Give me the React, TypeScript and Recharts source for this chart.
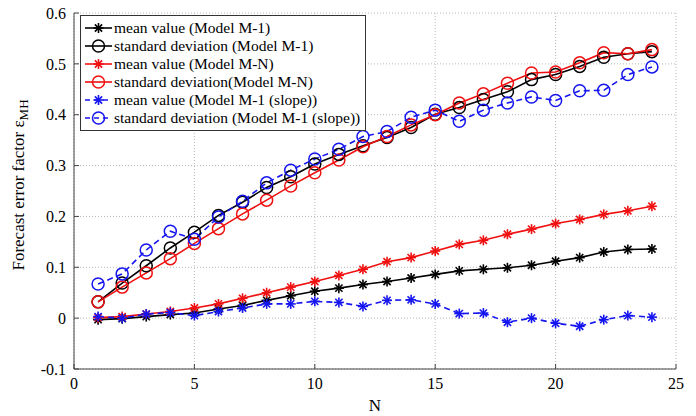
import { LineChart, Line, XAxis, YAxis, CartesianGrid, Legend } from "recharts";

// N (horizon) values
const nValues = [1, 2, 3, 4, 5, 6, 7, 8, 9, 10, 11, 12, 13, 14, 15, 16, 17, 18, 19, 20, 21, 22, 23, 24];

const meanM1 = [-0.003, -0.001, 0.003, 0.007, 0.01, 0.018, 0.025, 0.035, 0.044, 0.053, 0.059, 0.066, 0.072, 0.079, 0.086, 0.093, 0.096, 0.099, 0.104, 0.112, 0.119, 0.13, 0.135, 0.136];
const stdM1 = [0.032, 0.069, 0.103, 0.138, 0.169, 0.202, 0.228, 0.257, 0.278, 0.303, 0.322, 0.339, 0.355, 0.375, 0.401, 0.414, 0.43, 0.445, 0.469, 0.479, 0.495, 0.513, 0.52, 0.524];
const meanMN = [0.001, 0.003, 0.008, 0.013, 0.02, 0.028, 0.039, 0.05, 0.061, 0.072, 0.084, 0.096, 0.111, 0.119, 0.132, 0.145, 0.153, 0.165, 0.175, 0.186, 0.194, 0.204, 0.211, 0.22];
const stdMN = [0.032, 0.061, 0.089, 0.117, 0.147, 0.176, 0.205, 0.232, 0.26, 0.286, 0.311, 0.337, 0.357, 0.38, 0.4, 0.423, 0.441, 0.462, 0.482, 0.484, 0.502, 0.522, 0.52, 0.528];
const meanSlope = [0.003, 0.0, 0.008, 0.011, 0.005, 0.013, 0.02, 0.028, 0.028, 0.033, 0.031, 0.023, 0.035, 0.036, 0.028, 0.009, 0.01, -0.008, 0.0, -0.01, -0.016, -0.003, 0.005, 0.002];
const stdSlope = [0.067, 0.087, 0.134, 0.171, 0.155, 0.199, 0.23, 0.266, 0.291, 0.313, 0.332, 0.357, 0.367, 0.395, 0.409, 0.387, 0.409, 0.423, 0.435, 0.428, 0.447, 0.448, 0.479, 0.494];

const xTicks = [0, 5, 10, 15, 20, 25];
const yTicks = [-0.1, 0, 0.1, 0.2, 0.3, 0.4, 0.5, 0.6];

const data = nValues.map((n, i) => ({
  n,
  meanM1: meanM1[i],
  stdM1: stdM1[i],
  meanMN: meanMN[i],
  stdMN: stdMN[i],
  meanSlope: meanSlope[i],
  stdSlope: stdSlope[i],
}));

const FONT = '"Liberation Serif", "Times New Roman", serif';
const BLACK = "#000000";
const RED = "#f01010";
const BLUE = "#1515f0";

const series = [
  { key: "meanM1", name: "mean value (Model M-1)", color: BLACK, marker: "star", dashed: false },
  { key: "stdM1", name: "standard deviation (Model M-1)", color: BLACK, marker: "circle", dashed: false },
  { key: "meanMN", name: "mean value (Model M-N)", color: RED, marker: "star", dashed: false },
  { key: "stdMN", name: "standard deviation(Model M-N)", color: RED, marker: "circle", dashed: false },
  { key: "meanSlope", name: "mean value (Model M-1 (slope))", color: BLUE, marker: "star", dashed: true },
  { key: "stdSlope", name: "standard deviation (Model M-1 (slope))", color: BLUE, marker: "circle", dashed: true },
];

function Marker({ cx, cy, color, marker }: any) {
  if (cx == null || cy == null) return null;
  if (marker === "circle") {
    return <circle cx={cx} cy={cy} r={6} fill="none" stroke={color} strokeWidth={1.5} />;
  }
  const s = 5;
  const d = 3.6;
  return (
    <g stroke={color} strokeWidth={1.6}>
      <line x1={cx - s} y1={cy} x2={cx + s} y2={cy} />
      <line x1={cx} y1={cy - s} x2={cx} y2={cy + s} />
      <line x1={cx - d} y1={cy - d} x2={cx + d} y2={cy + d} />
      <line x1={cx - d} y1={cy + d} x2={cx + d} y2={cy - d} />
    </g>
  );
}

function LegendBox() {
  return (
    <div
      style={{
        border: "1px solid #333",
        background: "#fff",
        padding: "3px 5px 3px 3px",
        fontFamily: FONT,
        fontSize: 15.5,
        lineHeight: "18px",
        color: "#000",
      }}
    >
      {series.map((s) => (
        <div key={s.key} style={{ display: "flex", alignItems: "center", whiteSpace: "nowrap" }}>
          <svg width={29} height={14} style={{ marginRight: 1 }}>
            <line
              x1={1}
              y1={7}
              x2={28}
              y2={7}
              stroke={s.color}
              strokeWidth={1.6}
              strokeDasharray={s.dashed ? "5 4" : undefined}
            />
            <Marker cx={14.5} cy={7} color={s.color} marker={s.marker} />
          </svg>
          <span>{s.name}</span>
        </div>
      ))}
    </div>
  );
}

const renderYLabel = (props: any) => {
  const vb = props.viewBox || { x: 10, y: 13, width: 64, height: 356 };
  const x = vb.x + 14;
  const y = vb.y + vb.height / 2 - 6;
  return (
    <text
      x={x}
      y={y}
      transform={`rotate(-90, ${x}, ${y})`}
      textAnchor="middle"
      fontSize={17}
      fontFamily={FONT}
      fill="#000"
    >
      Forecast error factor ε
      <tspan dy={4} fontSize={13}>
        MH
      </tspan>
    </text>
  );
};

export default function App() {
  return (
    <div style={{ position: "absolute", left: 0, top: 0, background: "#fff", fontFamily: FONT }}>
      <LineChart
        width={696}
        height={416}
        data={data}
        margin={{ top: 13, right: 20, bottom: 0, left: 10 }}
        style={{ fontFamily: FONT }}
      >
        <CartesianGrid stroke="#b8b8b8" strokeDasharray="1 2" />
        <XAxis
          dataKey="n"
          type="number"
          domain={[0, 25]}
          ticks={xTicks}
          height={47}
          tickSize={-5}
          tickMargin={14}
          axisLine={{ stroke: "#444" }}
          tickLine={{ stroke: "#444" }}
          tick={{ fill: "#000", fontSize: 16, fontFamily: FONT }}
          label={{ value: "N", position: "insideBottom", offset: 5, fill: "#000", fontSize: 17, fontFamily: FONT }}
        />
        <XAxis
          xAxisId="top"
          orientation="top"
          dataKey="n"
          type="number"
          domain={[0, 25]}
          ticks={xTicks}
          height={0}
          tick={false}
          tickSize={-5}
          axisLine={{ stroke: "#444" }}
          tickLine={{ stroke: "#444" }}
        />
        <YAxis
          type="number"
          domain={[-0.1, 0.6]}
          ticks={yTicks}
          width={64}
          tickSize={-5}
          tickMargin={13}
          axisLine={{ stroke: "#444" }}
          tickLine={{ stroke: "#444" }}
          tick={{ fill: "#000", fontSize: 16, fontFamily: FONT }}
          label={{ content: renderYLabel }}
        />
        <YAxis
          yAxisId="right"
          orientation="right"
          type="number"
          domain={[-0.1, 0.6]}
          ticks={yTicks}
          width={0}
          tick={false}
          tickSize={-5}
          axisLine={{ stroke: "#444" }}
          tickLine={{ stroke: "#444" }}
        />
        <Legend
          layout="vertical"
          align="center"
          verticalAlign="middle"
          wrapperStyle={{ left: 80, top: 15, width: "auto", height: "auto" }}
          content={() => <LegendBox />}
        />
        {series.map((s) => (
          <Line
            key={s.key}
            dataKey={s.key}
            name={s.name}
            type="linear"
            stroke={s.color}
            strokeWidth={1.6}
            strokeDasharray={s.dashed ? "6 4" : undefined}
            isAnimationActive={false}
            activeDot={false}
            dot={(p: any) => (
              <Marker key={`${s.key}-${p.index}`} cx={p.cx} cy={p.cy} color={s.color} marker={s.marker} />
            )}
          />
        ))}
      </LineChart>
    </div>
  );
}
